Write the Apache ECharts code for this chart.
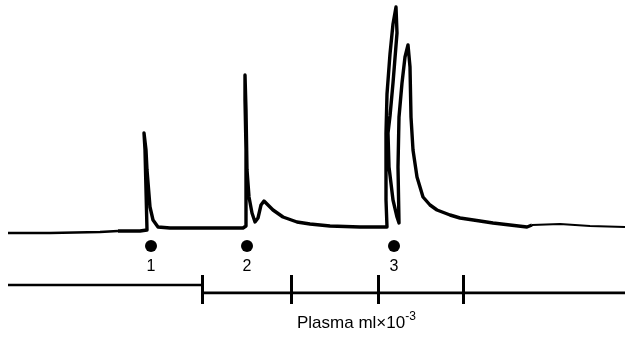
<!DOCTYPE html>
<html>
<head>
<meta charset="utf-8">
<script src="https://cdn.jsdelivr.net/npm/echarts@6/dist/echarts.min.js"></script>
<style>
html,body{margin:0;padding:0;background:#fff;}
#c{width:625px;height:338px;}
</style>
</head>
<body>
<div id="c"></div>
<script>
// Recorder trace: x = chart distance, y = pen deflection above the starting baseline
const leadInX = [8, 50, 100, 118];
const leadInY = [1, 1, 2, 3];

const traceX = [118, 140, 147, 146, 145, 144, 146, 147, 150, 153, 158, 170, 200, 243,
  246, 246, 245, 245, 246, 247, 249, 252, 255, 258, 261, 264, 268, 273, 283, 297, 310, 330, 360, 387,
  386, 386, 387, 390, 393, 396, 397, 393, 390, 388, 389, 393, 397, 399,
  398, 399, 402, 405, 408, 410, 411, 413, 417, 423, 430, 437, 450, 460, 480, 493, 510, 527, 532];
const traceY = [3, 3, 4, 44, 84, 101, 84, 64, 27, 14, 7, 6, 6, 6,
  8, 84, 134, 159, 124, 64, 37, 21, 12, 16, 29, 33, 29, 24, 17, 12, 10, 8, 7, 7,
  34, 101, 140, 180, 210, 227, 201, 151, 118, 101, 67, 34, 17, 11,
  67, 117, 151, 177, 189, 167, 117, 84, 57, 37, 29, 24, 19, 16, 13, 11, 9, 7, 9];

const leadOutX = [532, 560, 590, 625];
const leadOutY = [9, 10, 8, 7];

// Injection markers
const injectX = [151, 247, 394];
const injectY = [-12, -12, -12];
const injectLabels = ['1', '2', '3'];

// Plasma volume axis
const plasmaTicks = [202, 291, 378, 463];
const axisThinX = [8, 202];
const axisThinY = [8, 8];
const axisThickX = [202, 625];
const axisThickY = [0, 0];

const zip = (xs, ys) => xs.map((x, i) => [x, ys[i]]);
const font = '"Liberation Sans", Arial, sans-serif';

const chart = echarts.init(document.getElementById('c'), null, {renderer: 'canvas'});
chart.setOption({
  backgroundColor: '#ffffff',
  animation: false,
  title: {
    left: 297, top: 311, padding: 0,
    text: '{a|Plasma ml×10}{b|-3}',
    textStyle: {
      fontWeight: 'normal',
      rich: {
        a: {fontFamily: font, fontSize: 17, fontWeight: 'normal', color: '#000', verticalAlign: 'bottom', lineHeight: 21},
        b: {fontFamily: font, fontSize: 12, fontWeight: 'normal', color: '#000', verticalAlign: 'top', lineHeight: 12}
      }
    }
  },
  grid: [
    {left: 0, right: 0, top: 0, height: 338},
    {left: 0, right: 0, top: 253, height: 40}
  ],
  xAxis: [
    {gridIndex: 0, type: 'value', min: 0, max: 625, show: false},
    {gridIndex: 1, type: 'value', min: 0, max: 625, position: 'bottom',
      axisLine: {show: false, onZero: false},
      axisTick: {show: true, inside: true, length: 18, customValues: plasmaTicks,
        lineStyle: {color: '#000', width: 3}},
      axisLabel: {show: false}, splitLine: {show: false}},
    {gridIndex: 1, type: 'value', min: 0, max: 625, position: 'bottom',
      axisLine: {show: false, onZero: false},
      axisTick: {show: true, inside: false, length: 11, customValues: plasmaTicks,
        lineStyle: {color: '#000', width: 3}},
      axisLabel: {show: false}, splitLine: {show: false}}
  ],
  yAxis: [
    {gridIndex: 0, type: 'value', min: -104, max: 234, show: false},
    {gridIndex: 1, type: 'value', min: 0, max: 40, show: false}
  ],
  series: [
    {type: 'line', xAxisIndex: 0, yAxisIndex: 0, data: zip(leadInX, leadInY),
      showSymbol: false, lineStyle: {color: '#000', width: 2.4}},
    {type: 'line', xAxisIndex: 0, yAxisIndex: 0, data: zip(traceX, traceY),
      showSymbol: false, lineStyle: {color: '#000', width: 3.4, join: 'round'}},
    {type: 'line', xAxisIndex: 0, yAxisIndex: 0, data: zip(leadOutX, leadOutY),
      showSymbol: false, lineStyle: {color: '#000', width: 2.2}},
    {type: 'scatter', xAxisIndex: 0, yAxisIndex: 0, data: zip(injectX, injectY),
      symbol: 'circle', symbolSize: 12, itemStyle: {color: '#000', opacity: 1},
      label: {show: true, position: 'bottom', distance: 7,
        formatter: p => injectLabels[p.dataIndex],
        fontFamily: font, fontSize: 16, color: '#000'}},
    {type: 'line', xAxisIndex: 1, yAxisIndex: 1, data: zip(axisThinX, axisThinY),
      showSymbol: false, lineStyle: {color: '#000', width: 2.4}},
    {type: 'line', xAxisIndex: 1, yAxisIndex: 1, data: zip(axisThickX, axisThickY),
      showSymbol: false, lineStyle: {color: '#000', width: 3}}
  ]
});
</script>
</body>
</html>
